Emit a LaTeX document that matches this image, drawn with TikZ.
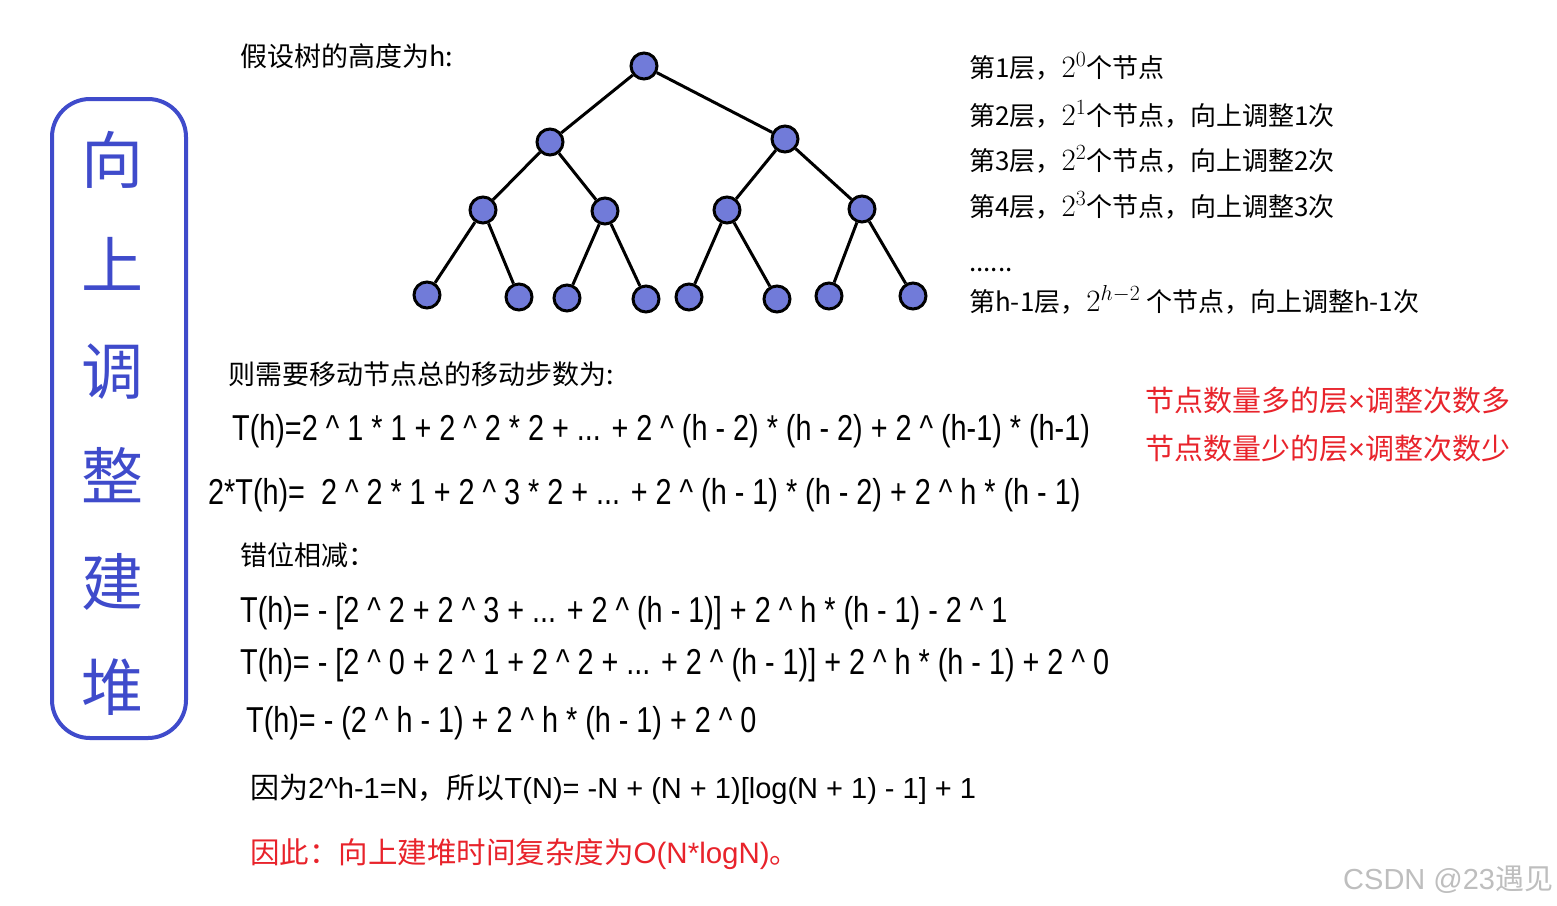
\documentclass[tikz,border=0pt]{standalone}
\usepackage{fix-cm}
\usepackage[no-math]{fontspec}
\setmainfont{Liberation Sans}
\newfontfamily\cjk{Noto Sans CJK SC}
\newfontfamily\estrecha[FakeStretch=0.80]{Liberation Sans}
\usetikzlibrary{positioning}
\definecolor{azul}{HTML}{3F4BCB}
\definecolor{azulnodo}{HTML}{717BD9}
\definecolor{rojo}{HTML}{E8232B}
\definecolor{gris}{HTML}{BEBEBE}
\newcommand{\pot}[1]{{\fontsize{31}{34}\selectfont$#1$}}
\tikzset{
  nodo/.style={circle,draw=black,fill=azulnodo,line width=3pt,minimum size=26pt,inner sep=0pt},
  arista/.style={line width=3pt,black},
  texto/.style={anchor=west,inner sep=0pt,text height=20.5pt,text depth=0pt,font=\cjk\fontsize{27}{32}\selectfont},
  lista/.style={texto,text height=19.8pt,font=\cjk\fontsize{26}{32}\selectfont},
  formula/.style={texto,text height=25.8pt,font=\estrecha\fontsize{36}{40}\selectfont},
  textorojo/.style={texto,text height=22pt,text=rojo,font=\cjk\fontsize{29}{34}\selectfont},
  marco/.style={draw=azul,line width=4pt,rounded corners=38pt,inner sep=0pt},
  vertical/.style={inner sep=0pt,text height=47pt,text depth=0pt,text=azul,font=\cjk\fontsize{62}{70}\selectfont},
}
\begin{document}
\begin{tikzpicture}[x=1pt,y=-1pt]
  \useasboundingbox (0,0) rectangle (1557,905);
  % marco izquierdo
  \node[marco,minimum width=134,minimum height=639] (marco) at (119,418.5) {};
  \foreach \c [count=\i] in {向,上,调,整,建,堆}
    \node[vertical] (v\i) at (112,{160+105.4*(\i-1)}) {\c};
  % arbol
  \node[texto] (altura) at (240,56) {假设树的高度为h:};
  \node[nodo] (r) at (644,66) {};
  \node[nodo] (a) at (550,142) {};
  \node[nodo] (b) at (785,139) {};
  \node[nodo] (aa) at (483,210) {};
  \node[nodo] (ab) at (605,211) {};
  \node[nodo] (ba) at (727,210) {};
  \node[nodo] (bb) at (862,209) {};
  \node[nodo] (aaa) at (427,295) {};
  \node[nodo] (aab) at (519,297) {};
  \node[nodo] (aba) at (567,298) {};
  \node[nodo] (abb) at (646,299) {};
  \node[nodo] (baa) at (689,297) {};
  \node[nodo] (bab) at (777,299) {};
  \node[nodo] (bba) at (829,296) {};
  \node[nodo] (bbb) at (913,296) {};
  \foreach \p/\h in {r/a,r/b,a/aa,a/ab,b/ba,b/bb,aa/aaa,aa/aab,ab/aba,ab/abb,ba/baa,ba/bab,bb/bba,bb/bbb}
    \draw[arista] (\p) -- (\h);
  % capas
  \node[lista] (c1) at (969,68) {第1层，\pot{2^0}个节点};
  \node[lista] (c2) at (969,116) {第2层，\pot{2^1}个节点，向上调整1次};
  \node[lista] (c3) at (969,161) {第3层，\pot{2^2}个节点，向上调整2次};
  \node[lista] (c4) at (969,207) {第4层，\pot{2^3}个节点，向上调整3次};
  \node[lista] (c5) at (969,262) {......};
  \node[lista] (c6) at (969,302) {第h-1层，\pot{2^{h-2}} 个节点，向上调整h-1次};
  \node[textorojo] (m1) at (1145,400) {节点数量多的层{\rmfamily ×}调整次数多};
  \node[textorojo] (m2) at (1145,448) {节点数量少的层{\rmfamily ×}调整次数少};
  % calculo
  \node[texto] (pasos) at (228,374) {则需要移动节点总的移动步数为:};
  \node[formula] (f1) at (232,428) {T(h)=2 \^{} 1 * 1 + 2 \^{} 2 * 2 + ... + 2 \^{} (h - 2) * (h - 2) + 2 \^{} (h-1) * (h-1)};
  \node[formula] (f2) at (208,492) {2*T(h)=\ \ 2 \^{} 2 * 1 + 2 \^{} 3 * 2 + ... + 2 \^{} (h - 1) * (h - 2) + 2 \^{} h * (h - 1)};
  \node[texto] (resta) at (240,555) {错位相减：};
  \node[formula] (f3) at (240,610) {T(h)= - [2 \^{} 2 + 2 \^{} 3 + ... + 2 \^{} (h - 1)] + 2 \^{} h * (h - 1) - 2 \^{} 1};
  \node[formula] (f4) at (240,662) {T(h)= - [2 \^{} 0 + 2 \^{} 1 + 2 \^{} 2 + ... + 2 \^{} (h - 1)] + 2 \^{} h * (h - 1) + 2 \^{} 0};
  \node[formula] (f5) at (246,720) {T(h)= - (2 \^{} h - 1) + 2 \^{} h * (h - 1) + 2 \^{} 0};
  \node[texto,text height=22pt,font=\fontsize{29}{32}\selectfont] (f6) at (250,787) {{\cjk 因为}2\^{}h-1=N{\cjk ，所以}T(N)= -N + (N + 1)[log(N + 1) - 1] + 1};
  \node[texto,text height=22.4pt,text=rojo,font=\fontsize{29.5}{32}\selectfont] (final) at (250,852) {{\cjk 因此：向上建堆时间复杂度为}O(N*logN){\cjk 。}};
  \node[texto,text height=22pt,text=gris,font=\fontsize{29}{34}\selectfont] (marca) at (1343,878) {CSDN @23{\cjk 遇见}};
\end{tikzpicture}
\end{document}
